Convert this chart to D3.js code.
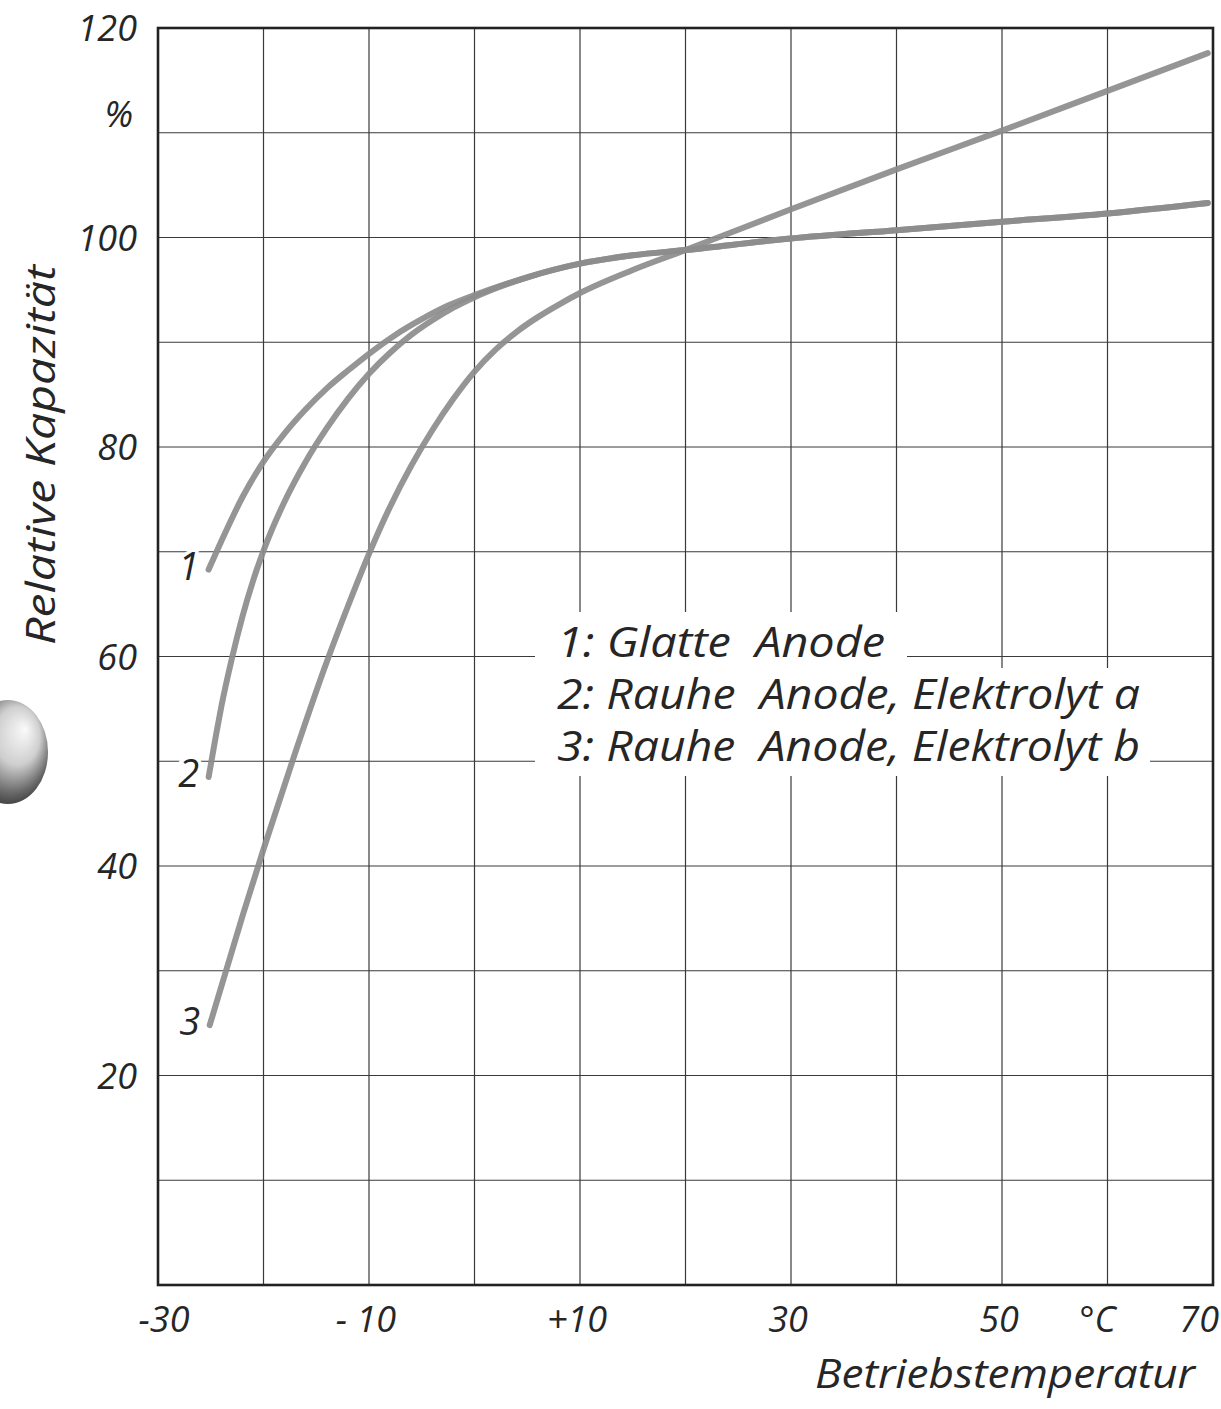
<!DOCTYPE html>
<html>
<head>
<meta charset="utf-8">
<script src="https://cdn.jsdelivr.net/npm/d3@7"></script>
<style>
  html, body { margin: 0; padding: 0; background: #fff; }
  svg { display: block; }
  text { font-family: "Open Sans", "DejaVu Sans", sans-serif; font-style: italic; font-weight: 400; fill: #262626; }
</style>
</head>
<body>
<svg id="chart" width="1221" height="1409"></svg>
<script>
// Temperature (°C) and relative capacitance (%) for the three anode types
const temps1 = [-25.2, -24, -22, -20, -18, -16, -14, -12, -10, -7.5, -5, -2.5, 0, 5, 10, 15, 20, 30, 40, 50, 60, 69.5];
const cap1   = [68.3, 71, 75.2, 78.6, 81.3, 83.6, 85.6, 87.3, 88.9, 90.7, 92.2, 93.5, 94.5, 96.2, 97.5, 98.3, 98.8, 99.9, 100.7, 101.5, 102.3, 103.3];

const temps2 = [-25.2, -24.5, -24, -23, -22, -21, -20, -18, -16, -14, -12, -10, -8, -6, -4, -2, 0, 5, 10, 15, 20, 30, 40, 50, 60, 69.5];
const cap2   = [48.5, 52.5, 55.2, 59.8, 63.8, 67.2, 70.1, 74.8, 78.6, 81.8, 84.6, 87.0, 89.0, 90.7, 92.1, 93.3, 94.3, 96.2, 97.5, 98.3, 98.8, 99.9, 100.7, 101.5, 102.3, 103.3];

const temps3 = [-25.1, -22, -20, -17, -14, -12, -10, -8, -6, -4, -2, 0, 2, 4, 6, 8, 10, 15, 20, 30, 40, 50, 60, 69.5];
const cap3   = [24.8, 35.2, 41.6, 50.8, 59.5, 64.8, 69.8, 74.3, 78.2, 81.6, 84.6, 87.2, 89.3, 91.0, 92.4, 93.6, 94.7, 96.9, 98.8, 102.7, 106.5, 110.2, 114, 117.6];

const curveIds = ["1", "2", "3"];
const legendLines = ["1: Glatte  Anode", "2: Rauhe  Anode, Elektrolyt a", "3: Rauhe  Anode, Elektrolyt b"];

const xTicks = [-30, -10, 10, 30, 50, 70];
const xTickLabels = ["-30", "- 10", "+10", "30", "50", "70"];
const yTicks = [20, 40, 60, 80, 100, 120];
const yTickLabels = ["20", "40", "60", "80", "100", "120"];

const svg = d3.select("#chart");

const x = d3.scaleLinear().domain([-30, 70]).range([158, 1213]);
const y = d3.scaleLinear().domain([0, 120]).range([1285, 28]);

// shaded binding hole at the left margin
const defs = svg.append("defs");
const grad = defs.append("radialGradient").attr("id", "holeShade")
  .attr("cx", "0.5").attr("cy", "0.42").attr("r", "0.62")
  .attr("fx", "0.72").attr("fy", "0.28");
grad.append("stop").attr("offset", "0").attr("stop-color", "#fafafa");
grad.append("stop").attr("offset", "0.45").attr("stop-color", "#cfcfcf");
grad.append("stop").attr("offset", "0.8").attr("stop-color", "#6a6a6a");
grad.append("stop").attr("offset", "1").attr("stop-color", "#3a3a3a");
svg.append("ellipse").attr("cx", 8).attr("cy", 752).attr("rx", 40).attr("ry", 52)
  .attr("fill", "url(#holeShade)");

// grid
const grid = svg.append("g").attr("stroke", "#3a3a3a").attr("stroke-width", 1.2);
d3.range(-20, 70, 10).forEach(t => {
  grid.append("line").attr("x1", x(t)).attr("x2", x(t)).attr("y1", y(120)).attr("y2", y(0));
});
d3.range(10, 120, 10).forEach(v => {
  grid.append("line").attr("x1", x(-30)).attr("x2", x(70)).attr("y1", y(v)).attr("y2", y(v));
});

// clear the grid behind the legend text
svg.append("rect").attr("x", 535).attr("y", 612).attr("width", 372).attr("height", 56).attr("fill", "#fff");
svg.append("rect").attr("x", 535).attr("y", 668).attr("width", 615).attr("height", 108).attr("fill", "#fff");

// curves
const line = d3.line().x(d => x(d[0])).y(d => y(d[1])).curve(d3.curveMonotoneX);
const series = [
  d3.zip(temps1, cap1),
  d3.zip(temps2, cap2),
  d3.zip(temps3, cap3)
];
svg.append("g").selectAll("path").data(series).join("path")
  .attr("d", line)
  .attr("fill", "none")
  .attr("stroke", "#8c8c8c")
  .attr("stroke-width", 6)
  .attr("stroke-linecap", "round")
  .attr("opacity", 0.92);

// frame
svg.append("rect").attr("x", x(-30)).attr("y", y(120))
  .attr("width", x(70) - x(-30)).attr("height", y(0) - y(120))
  .attr("fill", "none").attr("stroke", "#222").attr("stroke-width", 2.6);

// curve numbers at the start of each curve
svg.append("g").selectAll("text").data(series).join("text")
  .attr("x", d => x(d[0][0]) - 20)
  .attr("y", d => y(d[0][1]) + 10)
  .attr("text-anchor", "middle")
  .attr("font-size", 38)
  .attr("stroke", "#fff").attr("stroke-width", 7).attr("paint-order", "stroke")
  .text((d, i) => curveIds[i]);

// y tick labels
const yAxis = svg.append("g");
yAxis.selectAll("text").data(yTicks).join("text")
  .attr("x", 137).attr("y", v => y(v) + 13)
  .attr("text-anchor", "end").attr("font-size", 36)
  .text((v, i) => yTickLabels[i]);
yAxis.append("text").attr("x", 133).attr("y", y(110) - 6)
  .attr("text-anchor", "end").attr("font-size", 36).text("%");

// x tick labels; the last one is pulled in so it stays on the page
const xAxis = svg.append("g");
xAxis.selectAll("text").data(xTicks).join("text")
  .attr("x", t => t === 70 ? 1219 : x(t) + (t === -30 ? 6 : -3)).attr("y", 1332)
  .attr("text-anchor", t => t === 70 ? "end" : "middle").attr("font-size", 36)
  .text((t, i) => xTickLabels[i]);
xAxis.append("text").attr("x", x(60) - 10).attr("y", 1332)
  .attr("text-anchor", "middle").attr("font-size", 36).text("°C");

// axis titles
svg.append("text").attr("x", 1195).attr("y", 1388)
  .attr("text-anchor", "end").attr("font-size", 40)
  .attr("textLength", 380).attr("lengthAdjust", "spacingAndGlyphs")
  .text("Betriebstemperatur");
svg.append("text").attr("transform", "translate(55,455) rotate(-90)")
  .attr("text-anchor", "middle").attr("font-size", 40)
  .attr("textLength", 380).attr("lengthAdjust", "spacingAndGlyphs")
  .text("Relative Kapazität");

// legend
const legendWidths = [328, 583, 583];
svg.append("g").selectAll("text").data(legendLines).join("text")
  .attr("x", 557).attr("y", (d, i) => 657 + i * 52)
  .attr("font-size", 42)
  .attr("xml:space", "preserve")
  .attr("textLength", (d, i) => legendWidths[i]).attr("lengthAdjust", "spacingAndGlyphs")
  .text(d => d);
</script>
</body>
</html>
